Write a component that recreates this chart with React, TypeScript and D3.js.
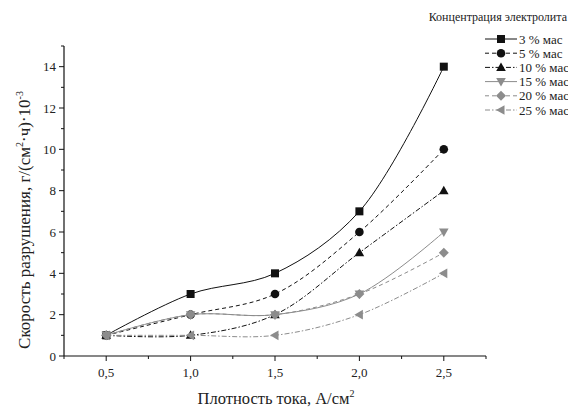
import React from "react";
import * as d3 from "d3";

const xValues = [0.5, 1.0, 1.5, 2.0, 2.5];
const s3 = [1, 3, 4, 7, 14];
const s5 = [1, 2, 3, 6, 10];
const s10 = [1, 1, 2, 5, 8];
const s15 = [1, 2, 2, 3, 6];
const s20 = [1, 2, 2, 3, 5];
const s25 = [1, 1, 1, 2, 4];
const seriesLabels = ["3 % мас", "5 % мас", "10 % мас", "15 % мас", "20 % мас", "25 % мас"];
const xTickLabels = ["0,5", "1,0", "1,5", "2,0", "2,5"];
const yTicks = [0, 2, 4, 6, 8, 10, 12, 14];
const legendTitle = "Концентрация электролита";

const BLACK = "#111";
const GRAY = "#8c8c8c";

type Style = { color: string; dash: string; marker: string };
const styles: Style[] = [
  { color: BLACK, dash: "none", marker: "square" },
  { color: BLACK, dash: "4,3", marker: "circle" },
  { color: BLACK, dash: "5,2,1.5,2", marker: "triUp" },
  { color: GRAY, dash: "none", marker: "triDown" },
  { color: GRAY, dash: "4,3", marker: "diamond" },
  { color: GRAY, dash: "5,2,1.5,2", marker: "triLeft" },
];

function Marker({ type, x, y, color }: { type: string; x: number; y: number; color: string }) {
  const r = 4;
  if (type === "square") return <rect x={x - r} y={y - r} width={2 * r} height={2 * r} fill={color} />;
  if (type === "circle") return <circle cx={x} cy={y} r={r + 0.3} fill={color} />;
  if (type === "triUp")
    return <path d={`M${x},${y - r - 1}L${x + r + 0.8},${y + r - 0.5}L${x - r - 0.8},${y + r - 0.5}Z`} fill={color} />;
  if (type === "triDown")
    return <path d={`M${x},${y + r + 1}L${x + r + 0.8},${y - r + 0.5}L${x - r - 0.8},${y - r + 0.5}Z`} fill={color} />;
  if (type === "diamond")
    return <path d={`M${x},${y - r - 1}L${x + r + 1},${y}L${x},${y + r + 1}L${x - r - 1},${y}Z`} fill={color} />;
  return <path d={`M${x - r - 1},${y}L${x + r - 0.5},${y - r - 0.8}L${x + r - 0.5},${y + r + 0.8}Z`} fill={color} />;
}

export default function App() {
  const W = 568, H = 407;
  const x = d3.scaleLinear().domain([0.25, 2.75]).range([64, 486]);
  const y = d3.scaleLinear().domain([0, 15]).range([356, 46]);
  const all = [s3, s5, s10, s15, s20, s25];
  const line = d3
    .line<number>()
    .x((_, i) => x(xValues[i]))
    .y((d) => y(d))
    .curve(d3.curveCatmullRom.alpha(0.5));
  const font = "'Liberation Serif', 'DejaVu Serif', serif";
  const xMinor = d3.range(0.25, 2.76, 0.25);
  const yMinor = d3.range(0, 15.01, 1);
  const legX0 = 485, legX1 = 517, legY0 = 39, legDy = 14.2;
  return (
    <svg width={W} height={H} style={{ position: "absolute", left: 0, top: 0, background: "#fff", fontFamily: font }}>
      <rect width={W} height={H} fill="#fff" />
      <line x1={x(0.25)} x2={x(0.25)} y1={y(0)} y2={y(15)} stroke={BLACK} strokeWidth={1.2} />
      <line x1={x(0.25)} x2={x(2.75)} y1={y(0)} y2={y(0)} stroke={BLACK} strokeWidth={1.2} />
      {yMinor.map((v) => (
        <line key={"ym" + v} x1={x(0.25)} x2={x(0.25) - (v % 2 === 0 ? 5 : 3)} y1={y(v)} y2={y(v)} stroke={BLACK} strokeWidth={1} />
      ))}
      {xMinor.map((v) => (
        <line key={"xm" + v} x1={x(v)} x2={x(v)} y1={y(0)} y2={y(0) + (Math.abs((v * 2) % 1) < 0.01 ? 5 : 3)} stroke={BLACK} strokeWidth={1} />
      ))}
      {yTicks.map((v) => (
        <text key={"yt" + v} x={x(0.25) - 8} y={y(v)} dy="0.35em" textAnchor="end" fontSize={13} fill="#222">
          {v}
        </text>
      ))}
      {xValues.map((v, i) => (
        <text key={"xt" + v} x={x(v)} y={y(0) + 21} textAnchor="middle" fontSize={13} fill="#222">
          {xTickLabels[i]}
        </text>
      ))}
      <text x={276} y={404} textAnchor="middle" fontSize={16.5} fill="#222">
        Плотность тока, А/см<tspan dy={-7} fontSize={10}>2</tspan>
      </text>
      <text transform={`translate(30,220) rotate(-90)`} textAnchor="middle" fontSize={17} fill="#222">
        Скорость разрушения, г/(см<tspan dy={-7} fontSize={10}>2</tspan>
        <tspan dy={7}>·ч)·10</tspan>
        <tspan dy={-7} fontSize={10}>-3</tspan>
      </text>
      {[0, 1, 2, 3, 4, 5].map((k) => (
        <g key={"s" + k}>
          <path d={line(all[k]) || ""} fill="none" stroke={styles[k].color} strokeWidth={1} strokeDasharray={styles[k].dash} />
          {all[k].map((v, i) => (
            <Marker key={i} type={styles[k].marker} x={x(xValues[i])} y={y(v)} color={styles[k].color} />
          ))}
        </g>
      ))}
      <text x={567} y={21} textAnchor="end" fontSize={12} fill="#222">
        {legendTitle}
      </text>
      {seriesLabels.map((lab, k) => {
        const ly = legY0 + k * legDy;
        return (
          <g key={"l" + k}>
            <line x1={legX0} x2={legX1} y1={ly} y2={ly} stroke={styles[k].color} strokeWidth={1} strokeDasharray={styles[k].dash} />
            <Marker type={styles[k].marker} x={(legX0 + legX1) / 2} y={ly} color={styles[k].color} />
            <text x={519} y={ly} dy="0.35em" fontSize={13} fill="#222">
              {lab}
            </text>
          </g>
        );
      })}
    </svg>
  );
}
